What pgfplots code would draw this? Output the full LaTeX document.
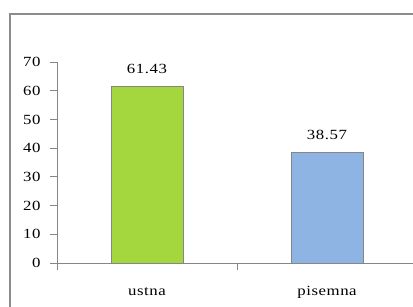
\documentclass[border=0pt]{standalone}
\usepackage{fontspec}
\setmainfont{Liberation Serif}
\newfontfamily\lserif{Liberation Serif}[FakeStretch=1.2, LetterSpace=4]
\usepackage{pgfplots}
\pgfplotsset{compat=1.18}
\definecolor{bargreen}{RGB}{164,214,62}
\definecolor{barblue}{RGB}{142,180,227}
\definecolor{axisgray}{RGB}{134,134,134}
\definecolor{framegray}{RGB}{140,140,140}
\begin{document}
\begin{tikzpicture}
\begin{axis}[
  at={(57pt,-263pt)}, anchor=origin,
  scale only axis, width=360pt, height=201pt,
  xmin=0, xmax=2, ymin=0, ymax=70,
  axis x line*=bottom, axis y line*=left,
  axis line style={axisgray, line width=0.8pt},
  ytick={0,10,...,70},
  xtick={0,1,2}, xticklabels={},
  tick align=outside, major tick length=7pt,
  tick style={axisgray, line width=0.8pt},
  yticklabel style={xshift=-6pt},
  extra x ticks={0.5,1.5},
  extra x tick labels={ustna,pisemna},
  extra x tick style={major tick length=0pt, xticklabel style={anchor=base, yshift=-32pt}},
  font=\lserif\fontsize{14}{16}\selectfont,
  /pgf/number format/assume math mode=true,
  ybar, bar width=72pt,
  point meta=explicit symbolic,
  nodes near coords,
  every node near coord/.append style={inner sep=0pt, yshift=12.5pt, font=\lserif\fontsize{14}{16}\selectfont, text=black},
  clip=false,
]
\addplot[fill=bargreen, draw=axisgray, bar shift=0pt] coordinates {(0.5,61.43) [61.43]};
\addplot[fill=barblue, draw=axisgray, bar shift=0pt] coordinates {(1.5,38.57) [38.57]};
\end{axis}
\draw[framegray, line width=1.2pt] (10pt,-307pt) -- (10pt,-14pt) -- (413pt,-14pt);
\pgfresetboundingbox
\useasboundingbox (0pt,0pt) rectangle (413pt,-307pt);
\end{tikzpicture}
\end{document}
